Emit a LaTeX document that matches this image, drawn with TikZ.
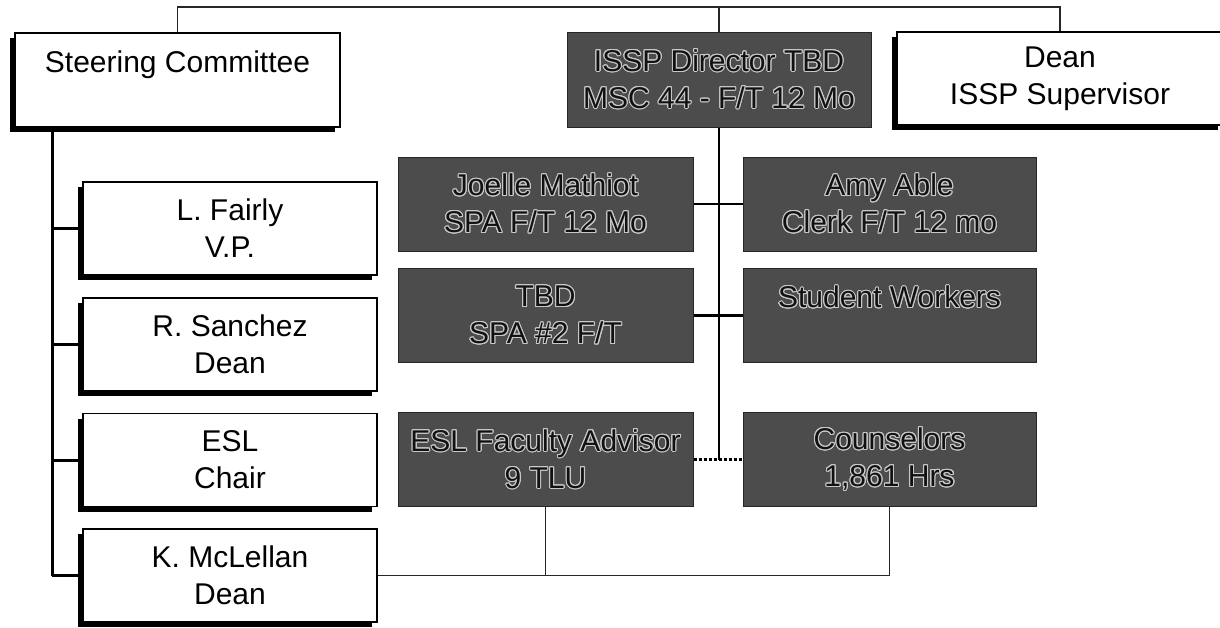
\documentclass[tikz,border=0pt]{standalone}
\usepackage{fontspec}
\setmainfont{Liberation Sans}
\usepackage{contour}
\contourlength{1.1pt}
\usetikzlibrary{shadows}
\definecolor{darkfill}{HTML}{4C4C4C}
\definecolor{ctr}{HTML}{C8C8C8}
\definecolor{txtd}{HTML}{111111}
\newcommand\dtxt[1]{\contour{ctr}{#1}}
\begin{document}
\begin{tikzpicture}[x=1pt,y=-1pt,
  every node/.style={font=\fontsize{30}{37}\selectfont, align=center, inner sep=0pt},
  wbox/.style={draw=black, line width=1.2pt, fill=white,
    drop shadow={shadow xshift=-5pt, shadow yshift=-5pt, fill=black, opacity=1}},
  lbox/.style={wbox, minimum width=294pt, minimum height=93pt},
  dbox/.style={draw=black!85, line width=1pt, fill=darkfill, text=txtd,
    minimum width=295pt, minimum height=94pt},
  thinline/.style={line width=1.5pt, black!85},
  spine/.style={line width=3pt},
  midline/.style={line width=2.4pt},
  dotline/.style={line width=2.8pt, dash pattern=on 3pt off 2pt}]
\useasboundingbox (0,0) rectangle (1220,627);

% top row
\node[wbox, minimum width=325pt, minimum height=94pt] (steer) at (177.5,80) {Steering Committee\\~};
\node[dbox, minimum width=304pt, minimum height=95pt] (issp) at (719,79.5) {\dtxt{ISSP Director TBD}\\\dtxt{MSC 44 - F/T 12 Mo}};
\node[wbox, minimum width=326pt, minimum height=93pt] (dean) at (1060,78.5) {Dean\\ISSP Supervisor};

% left column
\node[lbox] (fairly) at (230,228.5) {L. Fairly\\V.P.};
\node[lbox] (sanchez) at (230,344.5) {R. Sanchez\\Dean};
\node[lbox] (eslchair) at (230,460) {ESL\\Chair};
\node[lbox] (mclellan) at (230,575.5) {K. McLellan\\Dean};

% staff
\node[dbox] (joelle) at (545.5,204) {\dtxt{Joelle Mathiot}\\\dtxt{SPA F/T 12 Mo}};
\node[dbox, minimum width=293pt] (amy) at (889.5,204) {\dtxt{Amy Able}\\\dtxt{Clerk F/T 12 mo}};
\node[dbox] (tbd) at (545.5,315.5) {\dtxt{TBD}\\\dtxt{SPA \#2 F/T}};
\node[dbox, minimum width=293pt] (students) at (889.5,315.5) {\dtxt{Student Workers}\\~};
\node[dbox] (eslfac) at (545.5,459.5) {\dtxt{ESL Faculty Advisor}\\\dtxt{9 TLU}};
\node[dbox, minimum width=293pt] (couns) at (889.5,459.5) {\dtxt{Counselors}\\\dtxt{1,861 Hrs}};

\coordinate (topy) at (0,7);
\coordinate (spx) at (52,0);

% top connector
\draw[thinline] (steer.north) |- (dean.north |- topy) -- (dean.north);
\draw[thinline] (issp.north) -- (issp.north |- topy);

% left spine
\draw[spine] (steer.south -| spx) -- (mclellan.west -| spx);
\draw[spine] (spx |- fairly.west) -- (fairly.west);
\draw[spine] (spx |- sanchez.west) -- (sanchez.west);
\draw[spine] (spx |- eslchair.west) -- (eslchair.west);
\draw[spine] (spx |- mclellan.west) -- (mclellan.west);

% middle spine
\draw[midline] (issp.south) -- (issp.south |- eslfac.east);
\draw[midline] (joelle.east) -- (amy.west);
\draw[midline] (tbd.east) -- (students.west);
\draw[dotline] (eslfac.east) -- (couns.west);

% bottom connector
\draw[thinline] (mclellan.east) -| (couns.south);
\draw[thinline] (eslfac.south) -- (eslfac.south |- mclellan.east);
\end{tikzpicture}
\end{document}
